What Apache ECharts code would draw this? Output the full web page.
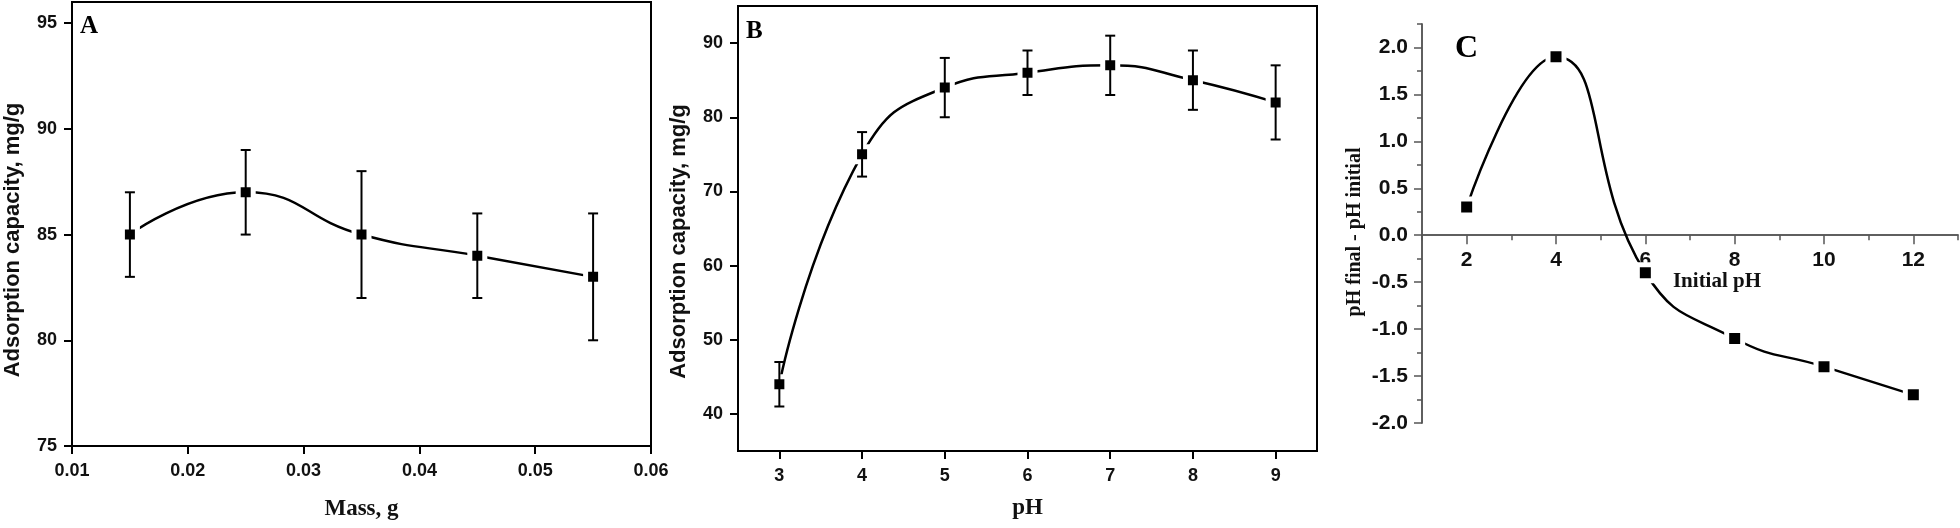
<!DOCTYPE html>
<html>
<head>
<meta charset="utf-8">
<script src="https://cdn.jsdelivr.net/npm/echarts@6/dist/echarts.min.js"></script>
<style>html,body{margin:0;padding:0;background:#fff}#c{width:1960px;height:528px}</style>
</head>
<body>
<div id="c"></div>
<script>
// ---- data ----
const massX = [0.015, 0.025, 0.035, 0.045, 0.055];
const massQ = [85, 87, 85, 84, 83];
const massErr = [2, 2, 3, 2, 3];

const phX = [3, 4, 5, 6, 7, 8, 9];
const phQ = [44, 75, 84, 86, 87, 85, 82];
const phErr = [3, 3, 4, 3, 4, 4, 5];

const initPH = [2, 4, 6, 8, 10, 12];
const dPH = [0.3, 1.9, -0.4, -1.1, -1.4, -1.7];

// ---- tick labels ----
const aXTicks = [0.01, 0.02, 0.03, 0.04, 0.05, 0.06];
const aYTicks = [75, 80, 85, 90, 95];
const bXTicks = [3, 4, 5, 6, 7, 8, 9];
const bYTicks = [40, 50, 60, 70, 80, 90];
const cXTicks = [2, 4, 6, 8, 10, 12];
const cYTicks = [-2.0, -1.5, -1.0, -0.5, 0.0, 0.5, 1.0, 1.5, 2.0];

const SANS = '"Liberation Sans", Arial, sans-serif';
const SERIF = '"Liberation Serif", "Times New Roman", serif';

// panel C layout / axis limits
const C_LEFT = 1422, C_TOP = 24, C_W = 536, C_H = 399;
const C_YMIN = -2, C_YMAX = 2.25, C_XMIN = 1, C_XMAX = 13;
const C_ZERO_H = C_H * (C_YMAX / (C_YMAX - C_YMIN)); // grid top -> y = 0 line

function errData(xs, ys, es) {
  return xs.map((x, i) => [x, ys[i] - es[i], ys[i] + es[i]]);
}
function errRender(params, api) {
  const x = api.value(0), lo = api.value(1), hi = api.value(2);
  const p1 = api.coord([x, hi]), p2 = api.coord([x, lo]);
  const w = 5;
  const st = { stroke: '#000', lineWidth: 2 };
  return { type: 'group', children: [
    { type: 'line', shape: { x1: p1[0], y1: p1[1], x2: p2[0], y2: p2[1] }, style: st },
    { type: 'line', shape: { x1: p1[0] - w, y1: p1[1], x2: p1[0] + w, y2: p1[1] }, style: st },
    { type: 'line', shape: { x1: p2[0] - w, y1: p2[1], x2: p2[0] + w, y2: p2[1] }, style: st }
  ]};
}

const boxAxisLine = { show: true, onZero: false, lineStyle: { color: '#000', width: 2 } };
const boxTick = { show: true, inside: false, length: 8, lineStyle: { color: '#000', width: 2 } };
const lblAB = { color: '#111', fontFamily: SANS, fontWeight: 'bold', fontSize: 18 };
const grayLine = { color: '#555', width: 1.5 };

const chart = echarts.init(document.getElementById('c'), null, { renderer: 'canvas' });
chart.setOption({
  backgroundColor: '#fff',
  animation: false,
  grid: [
    { left: 72, top: 2, width: 579, height: 444, show: true, borderColor: '#000', borderWidth: 2, outerBoundsMode: 'none' },
    { left: 738, top: 6, width: 579, height: 445, show: true, borderColor: '#000', borderWidth: 2, outerBoundsMode: 'none' },
    { left: C_LEFT, top: C_TOP, width: C_W, height: C_H, outerBoundsMode: 'none' },
    { left: C_LEFT, top: C_TOP, width: C_W, height: C_ZERO_H, outerBoundsMode: 'none' }
  ],
  xAxis: [
    { gridIndex: 0, type: 'value', min: 0.01, max: 0.06,
      axisLine: boxAxisLine, axisTick: Object.assign({ customValues: aXTicks }, boxTick),
      axisLabel: Object.assign({ customValues: aXTicks, margin: 16, formatter: v => v.toFixed(2) }, lblAB),
      splitLine: { show: false },
      name: 'Mass, g', nameLocation: 'middle', nameGap: 52,
      nameTextStyle: { fontFamily: SERIF, fontWeight: 'bold', fontSize: 23, color: '#111' } },
    { gridIndex: 1, type: 'value', min: 2.5, max: 9.5,
      axisLine: boxAxisLine, axisTick: Object.assign({ customValues: bXTicks }, boxTick),
      axisLabel: Object.assign({ customValues: bXTicks, margin: 16 }, lblAB),
      splitLine: { show: false },
      name: 'pH', nameLocation: 'middle', nameGap: 46,
      nameTextStyle: { fontFamily: SERIF, fontWeight: 'bold', fontSize: 23, color: '#111' } },
    // C: data x axis (hidden; drawn by the axes of grid 3 along y = 0)
    { gridIndex: 2, type: 'value', min: C_XMIN, max: C_XMAX, show: false },
    // C: minor ticks along y = 0
    { gridIndex: 3, type: 'value', min: C_XMIN, max: C_XMAX, interval: 1, position: 'bottom',
      axisLine: { show: true, onZero: false, lineStyle: grayLine },
      axisTick: { show: true, length: 5, lineStyle: grayLine },
      axisLabel: { show: false }, splitLine: { show: false } },
    // C: major ticks + labels along y = 0
    { gridIndex: 3, type: 'value', min: C_XMIN, max: C_XMAX, position: 'bottom',
      axisLine: { show: true, onZero: false, lineStyle: grayLine },
      axisTick: { show: true, length: 9, customValues: cXTicks, lineStyle: grayLine },
      axisLabel: { show: true, customValues: cXTicks, margin: 14, color: '#111', fontFamily: SANS, fontWeight: 'bold', fontSize: 21 },
      splitLine: { show: false },
      name: 'Initial pH', nameLocation: 'middle', nameGap: 31,
      nameTextStyle: { fontFamily: SERIF, fontWeight: 'bold', fontSize: 21, color: '#111', padding: [0, 0, 0, 54] } }
  ],
  yAxis: [
    { gridIndex: 0, type: 'value', min: 75, max: 96,
      axisLine: boxAxisLine, axisTick: Object.assign({ customValues: aYTicks }, boxTick),
      axisLabel: Object.assign({ customValues: aYTicks, margin: 15 }, lblAB),
      splitLine: { show: false },
      name: 'Adsorption capacity, mg/g', nameLocation: 'middle', nameGap: 48, nameRotate: 90,
      nameTextStyle: { fontFamily: SANS, fontWeight: 'bold', fontSize: 22, color: '#111', padding: [0, 32, 0, 0] } },
    { gridIndex: 1, type: 'value', min: 35, max: 95,
      axisLine: boxAxisLine, axisTick: Object.assign({ customValues: bYTicks }, boxTick),
      axisLabel: Object.assign({ customValues: bYTicks, margin: 15 }, lblAB),
      splitLine: { show: false },
      name: 'Adsorption capacity, mg/g', nameLocation: 'middle', nameGap: 48, nameRotate: 90,
      nameTextStyle: { fontFamily: SANS, fontWeight: 'bold', fontSize: 22, color: '#111', padding: [0, 26, 0, 0] } },
    // C: major ticks
    { gridIndex: 2, type: 'value', min: C_YMIN, max: C_YMAX, position: 'left',
      axisLine: { show: true, onZero: false, lineStyle: grayLine },
      axisTick: { show: true, length: 8, customValues: cYTicks, lineStyle: grayLine },
      axisLabel: { show: true, customValues: cYTicks, margin: 14, formatter: v => v.toFixed(1), color: '#111', fontFamily: SANS, fontWeight: 'bold', fontSize: 21 },
      splitLine: { show: false },
      name: 'pH final - pH initial', nameLocation: 'middle', nameGap: 57, nameRotate: 90,
      nameTextStyle: { fontFamily: SERIF, fontWeight: 'bold', fontSize: 20, color: '#111', padding: [0, 17, 0, 0] } },
    // C: minor ticks
    { gridIndex: 2, type: 'value', min: C_YMIN, max: C_YMAX, interval: 0.25, position: 'left',
      axisLine: { show: true, onZero: false, lineStyle: grayLine },
      axisTick: { show: true, length: 5, lineStyle: grayLine },
      axisLabel: { show: false }, splitLine: { show: false } },
    // helper y axis for grid 3 (hidden)
    { gridIndex: 3, type: 'value', min: 0, max: C_YMAX, show: false }
  ],
  series: [
    { type: 'line', xAxisIndex: 0, yAxisIndex: 0, smooth: true,
      data: massX.map((x, i) => [x, massQ[i]]),
      lineStyle: { color: '#000', width: 2.5 },
      symbol: 'rect', symbolSize: 15, itemStyle: { color: '#000', borderColor: '#fff', borderWidth: 5 }, z: 3 },
    { type: 'custom', xAxisIndex: 0, yAxisIndex: 0, renderItem: errRender,
      data: errData(massX, massQ, massErr), z: 4 },
    { type: 'line', xAxisIndex: 1, yAxisIndex: 1, smooth: true,
      data: phX.map((x, i) => [x, phQ[i]]),
      lineStyle: { color: '#000', width: 2.5 },
      symbol: 'rect', symbolSize: 15, itemStyle: { color: '#000', borderColor: '#fff', borderWidth: 5 }, z: 3 },
    { type: 'custom', xAxisIndex: 1, yAxisIndex: 1, renderItem: errRender,
      data: errData(phX, phQ, phErr), z: 4 },
    { type: 'line', xAxisIndex: 2, yAxisIndex: 2, smooth: true,
      data: initPH.map((x, i) => [x, dPH[i]]),
      lineStyle: { color: '#000', width: 2.5 },
      symbol: 'rect', symbolSize: 16, itemStyle: { color: '#000', borderColor: '#fff', borderWidth: 5 }, z: 3 }
  ],
  graphic: [
    { type: 'text', left: 80, top: 14, style: { text: 'A', fontFamily: SERIF, fontWeight: 'bold', fontSize: 25, fill: '#000' } },
    { type: 'text', left: 746, top: 19, style: { text: 'B', fontFamily: SERIF, fontWeight: 'bold', fontSize: 25, fill: '#000' } },
    { type: 'text', left: 1455, top: 33, style: { text: 'C', fontFamily: SERIF, fontWeight: 'bold', fontSize: 32, fill: '#000' } }
  ]
});
</script>
</body>
</html>
